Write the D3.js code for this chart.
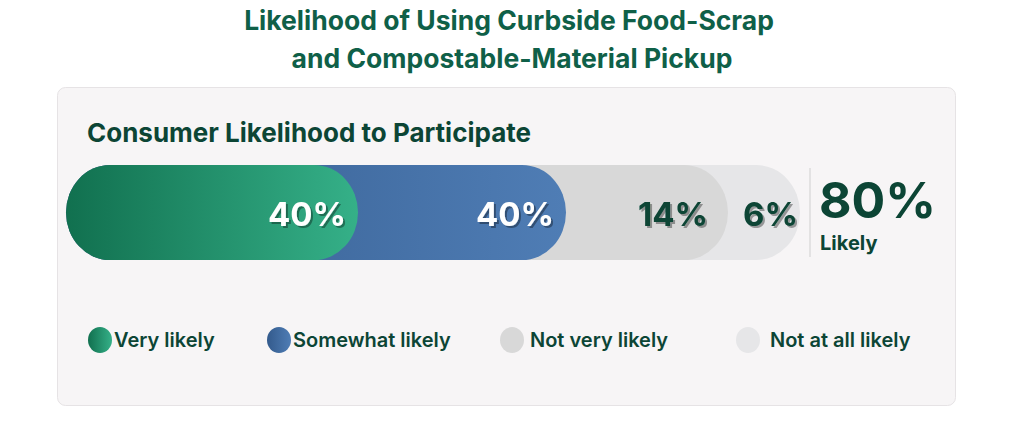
<!DOCTYPE html>
<html><head><meta charset="utf-8">
<script src="https://cdn.jsdelivr.net/npm/d3@7"></script>
<style>body{margin:0;background:#fff;font-family:Inter,"Noto Sans",sans-serif}</style>
</head><body><svg id="c" width="1024" height="425"></svg>
<script>
const categories=["Very likely","Somewhat likely","Not very likely","Not at all likely"];
const values=[40,40,14,6];
const labels=["40%","40%","14%","6%"];
const likelyTotal="80%";
const colors=[["#11704f","#35b088"],["#335a8c","#4f7db5"],["#d8d8d8","#d8d8d8"],["#e6e6e8","#e6e6e8"]];
const textCol=["#fff","#fff","#0c4535","#0c4535"];
const svg=d3.select("#c");
const defs=svg.append("defs");
colors.forEach((c,i)=>{const g=defs.append("linearGradient").attr("id","g"+i);
g.append("stop").attr("offset","0%").attr("stop-color",c[0]);g.append("stop").attr("offset","100%").attr("stop-color",c[1]);});
const f=defs.append("filter").attr("id","sh");
f.append("feDropShadow").attr("dx",2).attr("dy",2).attr("stdDeviation",0.3).attr("flood-color","#000").attr("flood-opacity",0.35);
svg.append("text").attr("x",509).attr("y",30).attr("text-anchor","middle").attr("font-size",26.5).attr("font-weight",700).attr("fill","#0f6048").text("Likelihood of Using Curbside Food-Scrap");
svg.append("text").attr("x",512).attr("y",68).attr("text-anchor","middle").attr("font-size",26.5).attr("font-weight",700).attr("fill","#0f6048").text("and Compostable-Material Pickup");
svg.append("rect").attr("x",57.5).attr("y",87.5).attr("width",898).attr("height",318).attr("rx",8).attr("fill","#f7f5f6").attr("stroke","#e6e3e5");
svg.append("text").attr("x",87).attr("y",142).attr("font-size",26).attr("font-weight",700).attr("fill","#0c4535").text("Consumer Likelihood to Participate");
const cum=[0];values.forEach((v,i)=>cum.push(cum[i]+v));
const x=d3.scaleLinear().domain(cum).range([66,358,566,728,800]);
const y0=165,h=95;
for(let i=values.length-1;i>=0;i--){
 svg.append("rect").attr("x",x(0)).attr("y",y0).attr("width",x(cum[i+1])-x(0)).attr("height",h).attr("rx",44).attr("ry",47.5).attr("fill",`url(#g${i})`);
}
values.forEach((v,i)=>{
 svg.append("text").attr("x",x(cum[i+1])-(i==3?2:i==2?20:12)).attr("y",226).attr("text-anchor","end").attr("font-size",33).attr("font-weight",700).attr("fill",textCol[i]).attr("filter","url(#sh)").text(labels[i]);
});
svg.append("line").attr("x1",810).attr("x2",810).attr("y1",168).attr("y2",257).attr("stroke","#cfcfcf");
svg.append("text").attr("x",819).attr("y",218).attr("font-size",50).attr("font-weight",700).attr("fill","#0c4535").text(likelyTotal);
svg.append("text").attr("x",820).attr("y",250).attr("font-size",20).attr("font-weight",700).attr("fill","#0c4535").text("Likely");
const lx=[100,279,512,748];
categories.forEach((c,i)=>{
 svg.append("ellipse").attr("cx",lx[i]).attr("cy",340).attr("rx",12).attr("ry",13).attr("fill",`url(#g${i})`);
 svg.append("text").attr("x",lx[i]+(i<2?14:18+ (i==3?4:0))).attr("y",347).attr("font-size",20).attr("font-weight",600).attr("fill","#0c4535").text(c);
});
</script></body></html>
